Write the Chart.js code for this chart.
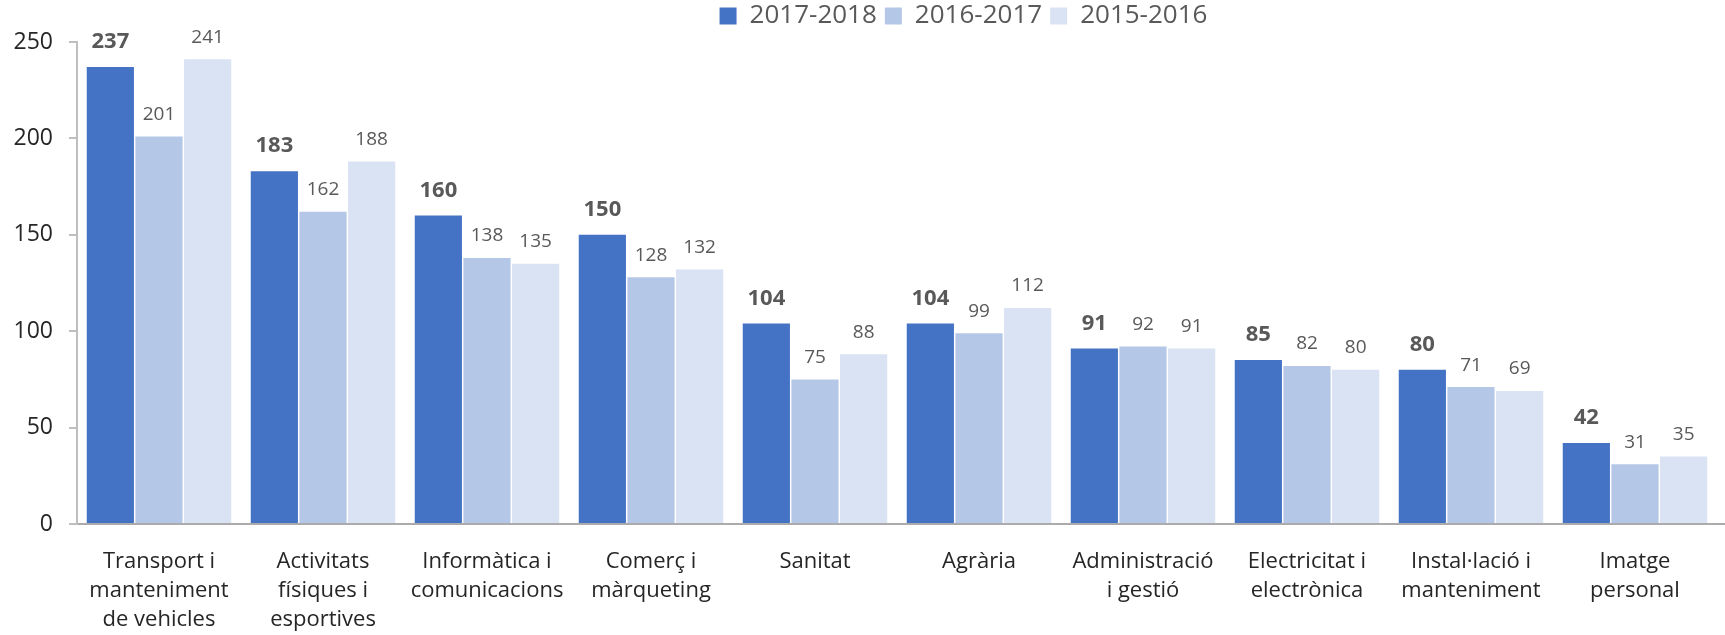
<!DOCTYPE html>
<html>
<head>
<meta charset="utf-8">
<script src="https://cdn.jsdelivr.net/npm/chart.js@4/dist/chart.umd.min.js"></script>
<style>
  html, body { margin: 0; padding: 0; background: #fff; overflow: hidden; }
  #wrap { width: 1926px; height: 635px; }
</style>
</head>
<body>
<div id="wrap"><canvas id="c" width="1926" height="635"></canvas></div>
<script>
// Categories (the 11th category lies beyond the cropped right edge of the picture)
const categories = [
  ['Transport i', 'manteniment', 'de vehicles'],
  ['Activitats', 'físiques i', 'esportives'],
  ['Informàtica i', 'comunicacions'],
  ['Comerç i', 'màrqueting'],
  'Sanitat',
  'Agrària',
  ['Administració', 'i gestió'],
  ['Electricitat i', 'electrònica'],
  ['Instal·lació i', 'manteniment'],
  ['Imatge', 'personal'],
  ''
];
const seriesNames = ['2017-2018', '2016-2017', '2015-2016'];
const values2017_2018 = [237, 183, 160, 150, 104, 104, 91, 85, 80, 42, null];
const values2016_2017 = [201, 162, 138, 128, 75, 99, 92, 82, 71, 31, null];
const values2015_2016 = [241, 188, 135, 132, 88, 112, 91, 80, 69, 35, null];
const yTicks = [0, 50, 100, 150, 200, 250];

const colors = ['#4472C4', '#B4C7E7', '#DAE3F3'];
const FONT = '"Open Sans", "DejaVu Sans", sans-serif';

const valueLabels = {
  id: 'valueLabels',
  afterDatasetsDraw(chart) {
    const ctx = chart.ctx;
    chart.data.datasets.forEach((ds, i) => {
      const meta = chart.getDatasetMeta(i);
      meta.data.forEach((bar, j) => {
        const v = ds.data[j];
        if (v == null) return;
        ctx.save();
        ctx.font = i === 0 ? 'bold 22px ' + FONT : '19px ' + FONT;
        ctx.fillStyle = '#595959';
        ctx.textAlign = 'center';
        ctx.textBaseline = 'middle';
        ctx.fillText(String(v), bar.x, bar.y - (i === 0 ? 25 : 22));
        ctx.restore();
      });
    });
  }
};

// Keeps the legend band 42px tall and nudges the legend's drawing box
const legendPlacement = {
  id: 'legendPlacement',
  afterInit(chart) {
    const lg = chart.legend;
    if (!lg) return;
    const fit = lg.fit;
    lg.fit = function () { fit.call(this); this.height = 42; };
  },
  afterLayout(chart) {
    const lg = chart.legend;
    if (!lg) return;
    lg.top -= 5;
    lg.left += 23;
    lg.right += 23;
  }
};

new Chart(document.getElementById('c'), {
  type: 'bar',
  data: {
    labels: categories,
    datasets: [
      { label: seriesNames[0], data: values2017_2018, backgroundColor: colors[0] },
      { label: seriesNames[1], data: values2016_2017, backgroundColor: colors[1] },
      { label: seriesNames[2], data: values2015_2016, backgroundColor: colors[2] }
    ]
  },
  options: {
    responsive: false,
    devicePixelRatio: 1,
    animation: false,
    layout: { padding: { left: 0, right: 45, top: 0, bottom: 0 } },
    datasets: { bar: { categoryPercentage: 0.89, barPercentage: 0.97 } },
    plugins: {
      legend: {
        position: 'top',
        labels: {
          font: { family: FONT, size: 26 },
          color: '#595959',
          boxWidth: 17,
          boxHeight: 17,
          padding: 8
        }
      },
      tooltip: { enabled: false }
    },
    scales: {
      x: {
        grid: { display: false, drawTicks: false },
        border: { display: true, color: '#ABABAB', width: 2 },
        ticks: {
          font: { family: FONT, size: 22, lineHeight: 1.33 },
          color: '#262626',
          padding: 23,
          maxRotation: 0,
          autoSkip: false
        },
        afterFit(s) { s.height = 111; }
      },
      y: {
        min: 0,
        max: 250,
        afterBuildTicks(s) { s.ticks = yTicks.map(v => ({ value: v })); },
        grid: { display: true, drawOnChartArea: false, drawTicks: true, tickLength: 8, color: '#BFBFBF', lineWidth: 2 },
        border: { display: true, color: '#BFBFBF', width: 2 },
        ticks: {
          font: { family: FONT, size: 23 },
          color: '#262626',
          padding: 16
        },
        afterFit(s) { s.width = 77; }
      }
    }
  },
  plugins: [valueLabels, legendPlacement]
});
</script>
</body>
</html>
